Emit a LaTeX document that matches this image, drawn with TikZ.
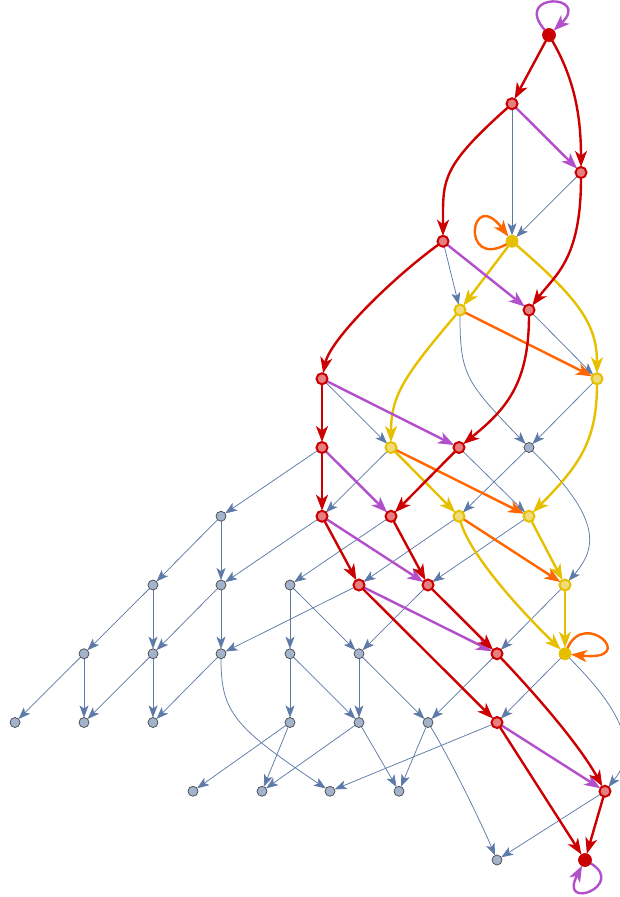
\documentclass[tikz,border=0pt]{standalone}
\usepackage{tikz}
\usetikzlibrary{arrows.meta,backgrounds}
\definecolor{pathred}{HTML}{CC0000}
\definecolor{pathredlight}{HTML}{E68080}
\definecolor{pathpurple}{HTML}{B250CC}
\definecolor{pathyellow}{HTML}{E6C000}
\definecolor{pathyellowlight}{HTML}{F2DC7A}
\definecolor{pathorange}{HTML}{FF6600}
\definecolor{stateedge}{HTML}{5E7AA8}
\definecolor{statefill}{HTML}{A3B3CC}
\definecolor{stateborder}{HTML}{454545}

\begin{document}
\begin{tikzpicture}[
  x=1pt,y=-1pt,
  state/.style={circle,inner sep=0pt,outer sep=0pt,minimum size=10pt,
    draw=stateborder,line width=.7pt,fill=statefill},
  redstate/.style={state,minimum size=11pt,draw=pathred,line width=2pt,
    fill=pathredlight},
  redend/.style={state,minimum size=13pt,draw=pathred,fill=pathred},
  yellowstate/.style={state,minimum size=11pt,draw=pathyellow,
    line width=2pt,fill=pathyellowlight},
  yellowend/.style={state,minimum size=12pt,draw=pathyellow,
    fill=pathyellow},
  plainedge/.style={-{Stealth[length=12pt,width=9pt,inset=3pt]},
    line width=.75pt,draw=stateedge},
  pathedge/.style={-{Stealth[length=16pt,width=12pt,inset=4.5pt]},
    line width=2.4pt},
  rededge/.style={pathedge,draw=pathred},
  purpleedge/.style={pathedge,draw=pathpurple},
  yellowedge/.style={pathedge,draw=pathyellow},
  orangeedge/.style={pathedge,draw=pathorange}
]
\useasboundingbox (0,0) rectangle (620,897);

% States sit on rows 68.75 apart; colour marks the path they lie on.
\foreach \name/\px/\r in {n6-4/529/6,n7-1/221/7,n8-1/153/8,n8-2/221/8,
  n8-3/290/8,n9-1/84/9,n9-2/153/9,n9-3/221/9,n9-4/290/9,n9-5/359/9,
  n10-1/15/10,n10-2/84/10,n10-3/153/10,n10-4/290/10,n10-5/359/10,
  n10-6/428/10,n11-1/193/11,n11-2/262/11,n11-3/330/11,n11-4/399/11,
  n12-1/497/12}
  \node[state] (\name) at (\px,{35+68.75*\r}) {};
\foreach \name/\px/\r in {n1-1/512/1,n2-1/581/2,n3-1/443/3,n4-2/529/4,
  n5-1/322/5,n6-1/322/6,n6-3/459/6,n7-2/322/7,n7-3/391/7,n8-4/359/8,
  n8-5/428/8,n9-6/497/9,n10-7/497/10,n11-5/605/11}
  \node[redstate] (\name) at (\px,{35+68.75*\r}) {};
\foreach \name/\px/\r in {n4-1/460/4,n5-2/597/5,n6-2/391/6,n7-4/459/7,
  n7-5/529/7,n8-6/565/8}
  \node[yellowstate] (\name) at (\px,{35+68.75*\r}) {};
\node[redend] (n0-1) at (549,35) {};
\node[redend] (n12-2) at (585,860) {};
\node[yellowend] (n3-2) at (512,241.25) {};
\node[yellowend] (n9-7) at (565,653.75) {};

\begin{scope}[on background layer]
% Plain transitions first, so the highlighted ones lie on top.
\foreach \a/\b in {n1-1/n3-2,n2-1/n3-2,n3-1/n4-1,n4-2/n5-2,n5-1/n6-2,
  n5-2/n6-4,n6-1/n7-1,n6-2/n7-2,n6-3/n7-5,n6-4/n7-4,n7-1/n8-1,n7-1/n8-2,
  n7-2/n8-2,n7-3/n8-3,n7-4/n8-4,n7-5/n8-5,n8-1/n9-1,n8-1/n9-2,n8-2/n9-2,
  n8-2/n9-3,n8-3/n9-4,n8-3/n9-5,n8-4/n9-3,n8-5/n9-5,n8-6/n9-6,n9-1/n10-1,
  n9-1/n10-2,n9-2/n10-2,n9-2/n10-3,n9-3/n10-3,n9-4/n10-4,n9-4/n10-5,
  n9-5/n10-5,n9-5/n10-6,n9-6/n10-6,n9-7/n10-7,n10-4/n11-1,n10-4/n11-2,
  n10-5/n11-2,n10-5/n11-4,n10-6/n11-4,n10-7/n11-3,n11-5/n12-1}
  \draw[plainedge] (\a) -- (\b);
\draw[plainedge] (n4-1) .. controls (460,375) and (466,382) .. (n6-4);
\draw[plainedge] (n6-4) .. controls (598,515) and (600,545) .. (n8-6);
\draw[plainedge] (n9-3) .. controls (221,712) and (234,727) .. (n11-3);
\draw[plainedge] (n9-7) .. controls (640,728) and (630,760) .. (n11-5);
\draw[plainedge] (n10-6) .. controls (448,755) and (480,820) .. (n12-1);

% Orange and yellow path.
\foreach \a/\b in {n4-1/n5-2,n6-2/n7-5,n7-4/n8-6}
  \draw[orangeedge] (\a) -- (\b);
\draw[orangeedge] (n3-2) .. controls (460,270) and (470,186) .. (n3-2);
\draw[orangeedge] (n9-7) .. controls (585,608) and (640,662) .. (n9-7);
\foreach \a/\b in {n3-2/n4-1,n6-2/n7-4,n7-5/n8-6,n8-6/n9-7}
  \draw[yellowedge] (\a) -- (\b);
\draw[yellowedge] (n3-2) .. controls (580,300) and (597,325) .. (n5-2);
\draw[yellowedge] (n4-1) .. controls (405,375) and (391,395) .. (n6-2);
\draw[yellowedge] (n5-2) .. controls (597,440) and (580,465) .. (n7-5);
\draw[yellowedge] (n7-4) .. controls (470,555) and (520,610) .. (n9-7);

% Purple and red path.
\foreach \a/\b in {n1-1/n2-1,n3-1/n4-2,n5-1/n6-3,n6-1/n7-3,n7-2/n8-5,
  n8-4/n9-6,n10-7/n11-5}
  \draw[purpleedge] (\a) -- (\b);
\draw[purpleedge] (n0-1) .. controls (512,-8) and (592,-6) .. (n0-1);
\draw[purpleedge] (n12-2) .. controls (627,885) and (558,912) .. (n12-2);
\foreach \a/\b in {n0-1/n1-1,n5-1/n6-1,n6-1/n7-2,n6-3/n7-3,n7-2/n8-4,
  n7-3/n8-5,n8-4/n10-7,n8-5/n9-6,n10-7/n12-2,n11-5/n12-2}
  \draw[rededge] (\a) -- (\b);
\draw[rededge] (n0-1) .. controls (572,75) and (581,110) .. (n2-1);
\draw[rededge] (n1-1) .. controls (440,168) and (443,180) .. (n3-1);
\draw[rededge] (n2-1) .. controls (581,260) and (555,275) .. (n4-2);
\draw[rededge] (n3-1) .. controls (390,280) and (330,340) .. (n5-1);
\draw[rededge] (n4-2) .. controls (529,385) and (505,410) .. (n6-3);
\draw[rededge] (n9-6) .. controls (555,715) and (585,755) .. (n11-5);
\end{scope}
\end{tikzpicture}
\end{document}
